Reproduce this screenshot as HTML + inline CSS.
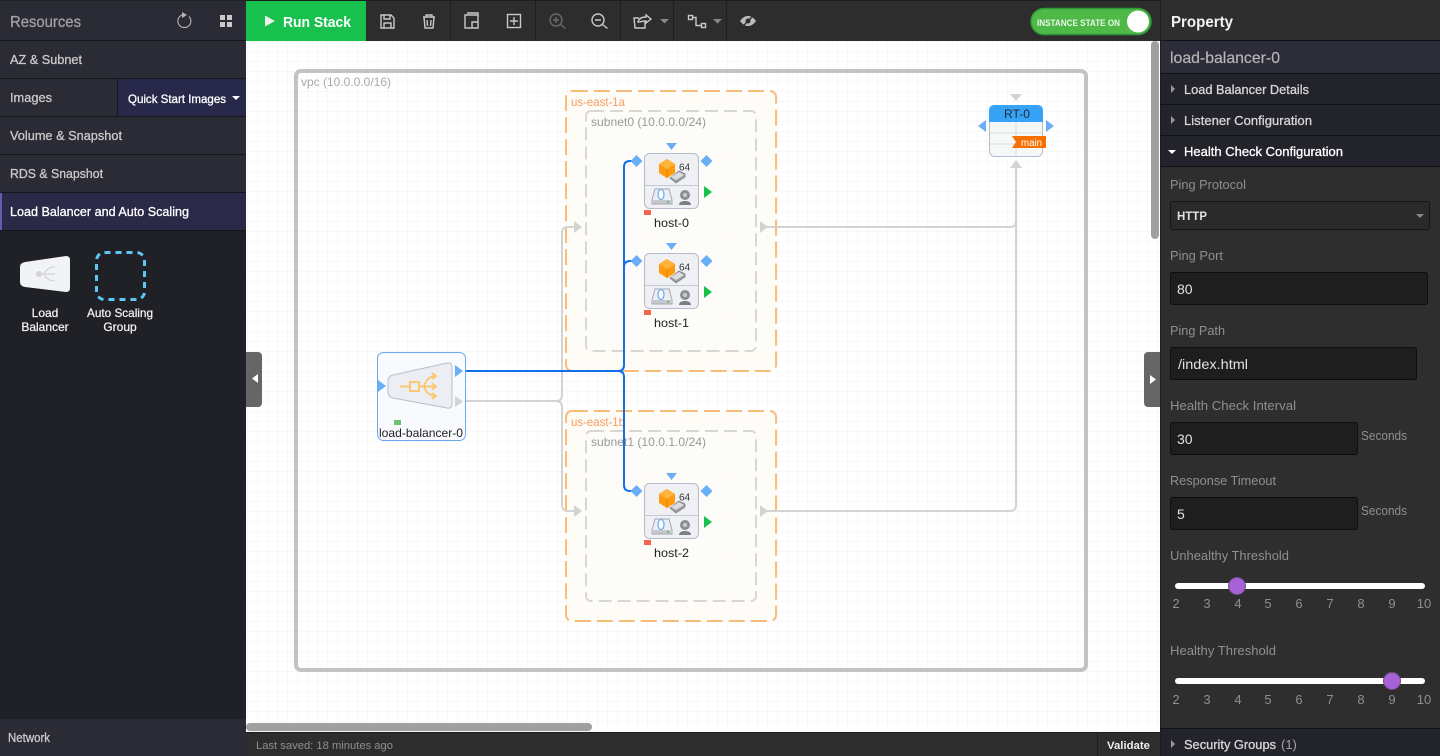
<!DOCTYPE html>
<html><head><meta charset="utf-8"><style>
html,body{margin:0;padding:0;width:1440px;height:756px;overflow:hidden;background:#2d2d2d}
svg{display:block;font-family:"Liberation Sans",sans-serif}
text{white-space:pre}
.ic{fill:none;stroke:#c8c8c8;stroke-width:1.4}
</style></head><body>
<svg width="1440" height="756" viewBox="0 0 1440 756" xmlns="http://www.w3.org/2000/svg">
<defs>
<pattern id="g" x="247" y="41" width="10" height="10" patternUnits="userSpaceOnUse"><path d="M0 0V10M0 0H10" stroke="#f2f2f2" stroke-width="1" fill="none"/></pattern>
<g id="host">
<rect x="644.5" y="153.5" width="54" height="55" rx="5" fill="#eef0f4" stroke="#b5bccb"/>
<path d="M645 185.5H698" stroke="#c5c9d2"/>
<path d="M667 159l8 5v9l-8 5-8-5v-9z" fill="#ff9c0d"/>
<path d="M667 159l8 5-8 5-8-5z" fill="#ffb23c"/>
<path d="M667 169v9" stroke="#e68500"/>
<path d="M670 178l9-7 6 3v3l-9 6z" fill="#9b9ea3" stroke="#777" stroke-width=".7"/>
<path d="M671 177l8-5 5 3-8 5z" fill="#dcdde0"/>
<path d="M655 189h14l3 11v4h-20v-4z" fill="#eceef1" stroke="#a5a9b0"/>
<rect x="653" y="200" width="18" height="3.500" fill="#c6c8cc"/>
<rect x="667" y="201" width="2" height="1.500" fill="#4bb864"/>
<ellipse cx="661" cy="194.500" rx="3" ry="5" fill="#fff" stroke="#6fb0f5" stroke-width="1.300"/>
<circle cx="685" cy="195" r="5" fill="#8a8d92"/><circle cx="685" cy="195" r="2.200" fill="#c8cacd"/>
<path d="M679 205c0-3 3-4 6-4s6 1 6 4z" fill="#7b7e83"/>
<path d="M636.500 155l6 6-6 6-6-6z M706.500 155l6 6-6 6-6-6z" fill="#6aaef8"/>
<path d="M666 143h11l-5.500 7z" fill="#6aaef8"/>
<path d="M704 186l8 6-8 6z" fill="#18c14e"/>
<rect x="644" y="210" width="7" height="5" fill="#f4654f"/>
<text x="679" y="170.500" font-size="10" fill="#333">64</text>
</g>
</defs>

<rect width="1440" height="756" fill="#2d2d2d"/>

<!-- canvas -->
<rect x="246" y="41" width="914" height="691" fill="#fff"/>
<rect x="246" y="41" width="914" height="691" fill="url(#g)"/>

<!-- VPC -->
<rect x="296" y="71" width="790" height="599" rx="5" fill="none" stroke="#c4c2c3" stroke-width="4"/>
<text x="301" y="86" font-size="12" fill="#aaa" textLength="90" lengthAdjust="spacingAndGlyphs">vpc (10.0.0.0/16)</text>

<!-- AZ -->
<rect x="566" y="91" width="210" height="280" rx="6" fill="#fdfbf6" fill-opacity=".85" stroke="#f9bd78" stroke-width="2" stroke-dasharray="16 6"/>
<rect x="566" y="411" width="210" height="210" rx="6" fill="#fdfbf6" fill-opacity=".85" stroke="#f9bd78" stroke-width="2" stroke-dasharray="16 6"/>
<text x="571" y="106" font-size="12" fill="#f89a5c" textLength="54" lengthAdjust="spacingAndGlyphs">us-east-1a</text>
<text x="571" y="426" font-size="12" fill="#f89a5c" textLength="54" lengthAdjust="spacingAndGlyphs">us-east-1b</text>
<rect x="586" y="111" width="170" height="240" rx="5" fill="#fdfcf8" fill-opacity=".6" stroke="#d9d7d3" stroke-width="2" stroke-dasharray="13 6"/>
<rect x="586" y="431" width="170" height="170" rx="5" fill="#fdfcf8" fill-opacity=".6" stroke="#d9d7d3" stroke-width="2" stroke-dasharray="13 6"/>
<text x="591" y="126" font-size="12" fill="#999" textLength="115" lengthAdjust="spacingAndGlyphs">subnet0 (10.0.0.0/24)</text>
<text x="591" y="446" font-size="12" fill="#999" textLength="115" lengthAdjust="spacingAndGlyphs">subnet1 (10.0.1.0/24)</text>

<!-- connectors gray -->
<g fill="none" stroke="#d3d3d3" stroke-width="2">
<path d="M466 401H556Q562 401 562 395V233Q562 227 568 227H576"/>
<path d="M556 401Q562 401 562 407V505Q562 511 568 511H576"/>
<path d="M766 227H1010Q1016 227 1016 221V166"/>
<path d="M766 511H1010Q1016 511 1016 505V166"/>
</g>
<g fill="#d3d3d3">
<path d="M574 221l8 6-8 6zM574 505l8 6-8 6zM760 221l8 6-8 6zM760 505l8 6-8 6z"/>
<path d="M1016 160l6 8h-12z"/>
<path d="M1010 94h12l-6 7z"/>
</g>
<!-- connectors blue -->
<g fill="none" stroke="#1070ec" stroke-width="2">
<path d="M462 371H618Q624 371 624 365V167Q624 161 630 161H637"/>
<path d="M624 267Q624 261 630 261H637"/>
<path d="M618 371Q624 371 624 377V485Q624 491 630 491H637"/>
</g>

<!-- hosts -->
<use href="#host"/>
<use href="#host" y="100"/>
<use href="#host" y="330"/>
<text x="654" y="227" font-size="12" fill="#222" textLength="35" lengthAdjust="spacingAndGlyphs">host-0</text>
<text x="654" y="327" font-size="12" fill="#222" textLength="35" lengthAdjust="spacingAndGlyphs">host-1</text>
<text x="654" y="557" font-size="12" fill="#222" textLength="35" lengthAdjust="spacingAndGlyphs">host-2</text>

<!-- load balancer -->
<rect x="377.500" y="352.500" width="88" height="88" rx="6" fill="#f8fafd" stroke="#6aa8f0"/>
<path d="M393 375L447 363Q452 362 452 367V404Q452 409 447 408L393 398Q388 397 388 392V381Q388 376 393 375Z" fill="#eceef3" stroke="#b8bdcb"/>
<g fill="none" stroke="#fbc568" stroke-width="1.800">
<path d="M400 386.500H410"/><rect x="410" y="382" width="9" height="9"/>
<path d="M419 386.500H436M424 386.500Q427 376 436 376M424 386.500Q427 396 436 396"/>
<path d="M432 373l4 3-4 3M432 383.500l4 3-4 3M432 393l4 3-4 3"/>
</g>
<path d="M378 380l8 6-8 6z" fill="#6aaef8"/>
<path d="M455 365l8 6-8 6z" fill="#6aaef8"/>
<path d="M455 396l8 5.500-8 5.500z" fill="#d3d3d3"/>
<rect x="394" y="420" width="7" height="5" fill="#6cc26e"/>
<text x="379" y="437" font-size="12" fill="#222" textLength="84" lengthAdjust="spacingAndGlyphs">load-balancer-0</text>

<!-- route table -->
<rect x="989.500" y="105.500" width="53" height="51" rx="5" fill="#f6f8f8" stroke="#b7bfd0"/>
<path d="M989 122V110a5 5 0 0 1 5-5h44a5 5 0 0 1 5 5v12z" fill="#36a3f7"/>
<path d="M1016 122V156M990 133H1042M990 144H1042" stroke="#d8dcdc"/>
<path d="M1046 120l8 6-8 6zM986 120l-8 6 8 6z" fill="#6aaef8"/>
<path d="M1012 136H1046V148H1012L1016 142Z" fill="#f66f02"/>
<text x="1004" y="118" font-size="12" fill="#1f2a3a" textLength="26" lengthAdjust="spacingAndGlyphs">RT-0</text>
<text x="1021" y="146" font-size="10" fill="#fff" textLength="21" lengthAdjust="spacingAndGlyphs">main</text>

<!-- canvas scrollbars / handles -->
<rect x="1151" y="41" width="8" height="198" rx="4" fill="#a0a0a0"/>
<rect x="246" y="723" width="346" height="8" rx="4" fill="#a0a0a0"/>
<path d="M246 352h12a4 4 0 0 1 4 4v47a4 4 0 0 1-4 4h-12z" fill="#666"/>
<path d="M258 374v9l-6-4.500z" fill="#fff"/>
<path d="M1160 352h-12a4 4 0 0 0-4 4v47a4 4 0 0 0 4 4h12z" fill="#666"/>
<path d="M1150 375v9l6-4.500z" fill="#fff"/>

<!-- left sidebar -->
<rect x="0" y="0" width="246" height="756" fill="#202126"/>
<rect x="0" y="1" width="246" height="39" fill="#2a2b35"/>
<rect x="0" y="41" width="246" height="37" fill="#2a2b35"/>
<rect x="0" y="79" width="246" height="37" fill="#2a2b35"/>
<rect x="118" y="79" width="128" height="37" fill="#28284a"/>
<rect x="117" y="79" width="1" height="37" fill="#17181c"/>
<rect x="0" y="117" width="246" height="37" fill="#2a2b35"/>
<rect x="0" y="155" width="246" height="37" fill="#2a2b35"/>
<rect x="0" y="193" width="246" height="37" fill="#2a2a48"/>
<rect x="0" y="193" width="2" height="37" fill="#5f5fb0"/>
<rect x="0" y="719" width="246" height="37" fill="#2a2b35"/>
<path d="M0 40.500H246M0 78.500H246M0 116.500H246M0 154.500H246M0 192.500H246M0 230.500H246" stroke="#15161a"/>
<text x="10" y="27" font-size="16" fill="#a0a0a0" stroke="#a0a0a0" stroke-width=".3" textLength="71" lengthAdjust="spacingAndGlyphs">Resources</text>
<path d="M189 16.500A6.500 6.500 0 1 1 182 15" fill="none" stroke="#b5b5b5" stroke-width="1.100"/>
<path d="M182 12l5 3-5 3z" fill="#b5b5b5"/>
<path d="M220 15h5v5h-5zM227 15h5v5h-5zM220 22h5v5h-5zM227 22h5v5h-5z" fill="#c8c8c8"/>
<g font-size="13" fill="#cacaca" stroke="#cacaca" stroke-width=".3">
<text x="10" y="64" textLength="72" lengthAdjust="spacingAndGlyphs">AZ &amp; Subnet</text>
<text x="10" y="102" textLength="42" lengthAdjust="spacingAndGlyphs">Images</text>
<text x="10" y="140" textLength="112" lengthAdjust="spacingAndGlyphs">Volume &amp; Snapshot</text>
<text x="10" y="178" textLength="93" lengthAdjust="spacingAndGlyphs">RDS &amp; Snapshot</text>
<text x="10" y="216" fill="#fff" stroke="#fff" textLength="179" lengthAdjust="spacingAndGlyphs">Load Balancer and Auto Scaling</text>
<text x="8" y="742" textLength="42" lengthAdjust="spacingAndGlyphs">Network</text>
</g>
<text x="128" y="103" font-size="12" fill="#fff" stroke="#fff" stroke-width=".3" textLength="98" lengthAdjust="spacingAndGlyphs">Quick Start Images</text>
<path d="M232 96h8l-4 4z" fill="#fff"/>

<path d="M25 262L66 256Q70 256 70 260V288Q70 292 66 292L25 287Q20 286 20 282V267Q20 263 25 262Z" fill="#f2f3f6"/>
<g fill="none" stroke="#d2d4d8" stroke-width="1.300"><path d="M40 274H55M44 274Q47 267 55 267M44 274Q47 281 55 281"/></g>
<circle cx="39" cy="274" r="3" fill="#d2d4d8"/>
<rect x="96.500" y="252.500" width="48" height="47" rx="8" fill="none" stroke="#5cc8f5" stroke-width="3" stroke-dasharray="6 5"/>
<g font-size="12" fill="#f2f2f2" stroke="#f2f2f2" stroke-width=".25" text-anchor="middle">
<text x="45" y="317">Load</text><text x="45" y="331">Balancer</text>
<text x="120" y="317" textLength="66" lengthAdjust="spacingAndGlyphs">Auto Scaling</text><text x="120" y="331">Group</text>
</g>

<!-- toolbar -->
<rect x="246" y="0" width="914" height="41" fill="#2d2d2d"/>
<rect x="246" y="0" width="914" height="1" fill="#1d1d1d"/>
<rect x="246" y="1" width="120" height="40" fill="#18c14e"/>
<path d="M265 15.500l10 5.500-10 5.500z" fill="#eee"/>
<text x="283" y="27" font-size="15" font-weight="bold" fill="#fff" textLength="68" lengthAdjust="spacingAndGlyphs">Run Stack</text>
<path d="M450.500 1V40M535.500 1V40M620.500 1V40M673.500 1V40M726.500 1V40" stroke="#1e1e1e"/>
<g class="ic">
<path d="M381 15h10l3 3v10h-13zM384 15v4h6v-4M384 28v-5h7v5"/>
<path d="M423 17h12M424 17l1 11h8l1-11M426 17v-2h6v2M427 20l.5 6M431 20l-.5 6"/>
<path d="M465 16h13v13h-13zM467 14h11v2M472 23h6v6h-6z" transform="translate(-0 -1)"/>
<rect x="507.500" y="14.500" width="13" height="13"/>
<path d="M514 17v8M510 21h8"/>
<g stroke="#6a6a6a"><circle cx="556" cy="20" r="6"/><path d="M553 20h6M556 17v6M560.500 24.500l5 4"/></g>
<circle cx="598" cy="20" r="6"/><path d="M595 20h6M602.500 24.500l5 4"/>
<path d="M645 22v6h-10l-1-10h5M638 22c1-4 4-5 8-5v-2l5 4-5 4v-2c-4 0-6 1-8 1z"/>
<rect x="688.500" y="15.500" width="4" height="4"/><rect x="701.500" y="23.500" width="4" height="4"/><path d="M692 17.500h4v8h5"/>
</g>
<path d="M660 19h9l-4.500 4.500zM713 19h9l-4.500 4.500z" fill="#888"/>
<path d="M740 21c3-4 5.500-5 8-5s5 1 8 5c-3 4-5.500 5-8 5s-5-1-8-5z" fill="#bbb"/>
<circle cx="748" cy="21" r="2.500" fill="#2d2d2d"/>
<path d="M742 27l12-12" stroke="#2d2d2d" stroke-width="1.300"/>

<rect x="1031" y="8.500" width="120" height="26" rx="13" fill="#4eb947" stroke="#2f9a35" stroke-width="1.500"/>
<circle cx="1138" cy="21.500" r="11" fill="#fff"/>
<text x="1037" y="26" font-size="9" font-weight="bold" fill="#eaf7e8" textLength="83" lengthAdjust="spacingAndGlyphs">INSTANCE STATE ON</text>

<!-- status bar -->
<rect x="246" y="732" width="914" height="24" fill="#2d2d2d"/>
<rect x="246" y="732" width="914" height="1" fill="#1c1c1c"/>
<rect x="1097" y="733" width="1" height="23" fill="#1e1e1e"/>
<text x="256" y="749" font-size="11" fill="#8f8f8f" textLength="137" lengthAdjust="spacingAndGlyphs">Last saved: 18 minutes ago</text>
<text x="1107" y="749" font-size="11" font-weight="bold" fill="#eee" textLength="43" lengthAdjust="spacingAndGlyphs">Validate</text>

<!-- property panel -->
<rect x="1160" y="0" width="280" height="756" fill="#2e2e2e"/>
<rect x="1160" y="0" width="1" height="756" fill="#1d1d1d"/>
<text x="1171" y="27" font-size="16" font-weight="bold" fill="#f2f2f2" textLength="62" lengthAdjust="spacingAndGlyphs">Property</text>
<rect x="1161" y="41" width="279" height="32" fill="#2c2d39"/>
<rect x="1161" y="74" width="279" height="30" fill="#23242b"/>
<rect x="1161" y="105" width="279" height="30" fill="#23242b"/>
<rect x="1161" y="136" width="279" height="30" fill="#23242b"/>
<path d="M1161 40.500H1440M1161 73.500H1440M1161 104.500H1440M1161 135.500H1440M1161 166.500H1440" stroke="#111214"/>
<text x="1170" y="63" font-size="16" fill="#b5b5b5" stroke="#b5b5b5" stroke-width=".2" textLength="110" lengthAdjust="spacingAndGlyphs">load-balancer-0</text>
<path d="M1171 85l4 4-4 4zM1171 116l4 4-4 4z" fill="#999"/>
<path d="M1168 150h8l-4 4z" fill="#fff"/>
<g stroke-width=".3">
<text x="1184" y="94" font-size="13" fill="#d6d6d6" stroke="#d6d6d6" textLength="125" lengthAdjust="spacingAndGlyphs">Load Balancer Details</text>
<text x="1184" y="125" font-size="13" fill="#d6d6d6" stroke="#d6d6d6" textLength="128" lengthAdjust="spacingAndGlyphs">Listener Configuration</text>
<text x="1184" y="156" font-size="13" fill="#fff" stroke="#fff" textLength="159" lengthAdjust="spacingAndGlyphs">Health Check Configuration</text>
</g>

<g font-size="13" fill="#8f8f8f">
<text x="1170" y="189" textLength="76" lengthAdjust="spacingAndGlyphs">Ping Protocol</text>
<text x="1170" y="260" textLength="53" lengthAdjust="spacingAndGlyphs">Ping Port</text>
<text x="1170" y="335" textLength="55" lengthAdjust="spacingAndGlyphs">Ping Path</text>
<text x="1170" y="410" textLength="126" lengthAdjust="spacingAndGlyphs">Health Check Interval</text>
<text x="1170" y="485" textLength="106" lengthAdjust="spacingAndGlyphs">Response Timeout</text>
<text x="1361" y="440" textLength="46" lengthAdjust="spacingAndGlyphs">Seconds</text>
<text x="1361" y="515" textLength="46" lengthAdjust="spacingAndGlyphs">Seconds</text>
<text x="1170" y="560" textLength="119" lengthAdjust="spacingAndGlyphs">Unhealthy Threshold</text>
<text x="1170" y="655" textLength="106" lengthAdjust="spacingAndGlyphs">Healthy Threshold</text>
</g>
<rect x="1170.500" y="201.500" width="259" height="28" rx="2" fill="#2a2a2a" stroke="#151515"/>
<path d="M1416 214h8l-4 4z" fill="#888"/>
<g fill="#1e1e1e" stroke="#0e0e0e">
<rect x="1170.500" y="272.500" width="257" height="32" rx="2"/>
<rect x="1170.500" y="347.500" width="246" height="32" rx="2"/>
<rect x="1170.500" y="422.500" width="187" height="32" rx="2"/>
<rect x="1170.500" y="497.500" width="187" height="32" rx="2"/>
</g>
<g font-size="14" fill="#e2e2e2">
<text x="1177" y="220" font-size="12" font-weight="bold" textLength="30" lengthAdjust="spacingAndGlyphs">HTTP</text>
<text x="1177" y="294">80</text>
<text x="1178" y="369" textLength="70" lengthAdjust="spacingAndGlyphs">/index.html</text>
<text x="1177" y="444">30</text>
<text x="1177" y="519">5</text>
</g>

<rect x="1175" y="583" width="250" height="6" rx="3" fill="#fff"/>
<circle cx="1237" cy="586" r="8.500" fill="#a862d8" stroke="#6d4c85"/>
<rect x="1175" y="678" width="250" height="6" rx="3" fill="#fff"/>
<circle cx="1392" cy="681" r="8.500" fill="#a862d8" stroke="#6d4c85"/>
<g font-size="13" fill="#8f8f8f" text-anchor="middle">
<text x="1176" y="608">2</text><text x="1207" y="608">3</text><text x="1238" y="608">4</text><text x="1268" y="608">5</text><text x="1299" y="608">6</text><text x="1330" y="608">7</text><text x="1361" y="608">8</text><text x="1392" y="608">9</text><text x="1424" y="608">10</text>
<text x="1176" y="704">2</text><text x="1207" y="704">3</text><text x="1238" y="704">4</text><text x="1268" y="704">5</text><text x="1299" y="704">6</text><text x="1330" y="704">7</text><text x="1361" y="704">8</text><text x="1392" y="704">9</text><text x="1424" y="704">10</text>
</g>

<rect x="1161" y="729" width="279" height="27" fill="#23242b"/>
<path d="M1161 728.500H1440" stroke="#111214"/>
<path d="M1171 740l4 4-4 4z" fill="#999"/>
<text x="1184" y="749" font-size="13" fill="#d6d6d6" stroke="#d6d6d6" stroke-width=".3" textLength="92" lengthAdjust="spacingAndGlyphs">Security Groups</text>
<text x="1281" y="749" font-size="13" fill="#a5a5a5">(1)</text>
</svg>
</body></html>
